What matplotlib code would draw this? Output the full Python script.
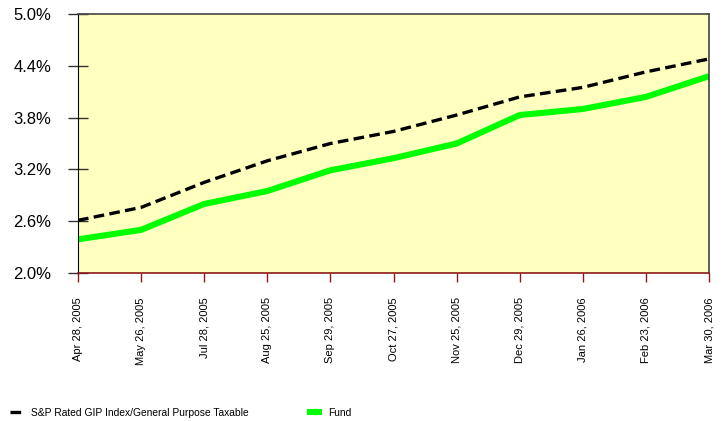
import matplotlib.pyplot as plt
from matplotlib.ticker import FuncFormatter

plt.rcParams["font.family"] = ["Liberation Sans", "DejaVu Sans"]

# ── Data ───────────────────────────────────────────────────────────────────
dates = ["Apr 28, 2005", "May 26, 2005", "Jul 28, 2005", "Aug 25, 2005",
         "Sep 29, 2005", "Oct 27, 2005", "Nov 25, 2005", "Dec 29, 2005",
         "Jan 26, 2006", "Feb 23, 2006", "Mar 30, 2006"]
index_yield = [2.61, 2.76, 3.05, 3.30, 3.50, 3.64, 3.83, 4.04, 4.15, 4.33, 4.48]
fund_yield = [2.39, 2.50, 2.80, 2.95, 3.19, 3.33, 3.50, 3.83, 3.90, 4.04, 4.28]
y_ticks = [2.0, 2.6, 3.2, 3.8, 4.4, 5.0]

INDEX_LABEL = "S&P Rated GIP Index/General Purpose Taxable"
FUND_LABEL = "Fund"

# ── Style ──────────────────────────────────────────────────────────────────
BG = "#FFFFC0"
AXIS_RED = "#8B1A1A"
LEG_SIZE = 7.4

fig = plt.figure(figsize=(7.25, 4.21), dpi=100)
ax = fig.add_axes([0.1076, 0.3515, 0.8704, 0.6152])
ax.set_facecolor(BG)

x = range(len(dates))
l_idx, = ax.plot(x, index_yield, color="black", lw=2.4, ls=(0, (3.2, 1.6)),
                 label=INDEX_LABEL, zorder=3)
l_fund, = ax.plot(x, fund_yield, color="#00FF00", lw=4.4,
                  solid_capstyle="butt", label=FUND_LABEL, zorder=2)

ax.set_xlim(0, len(dates) - 1)
ax.set_ylim(2.0, 5.0)
ax.set_yticks(y_ticks)
ax.yaxis.set_major_formatter(FuncFormatter(lambda v, _: f"{v:.1f}%"))
ax.set_xticks(list(x))
ax.set_xticklabels(dates, rotation=90, fontsize=8)

ax.tick_params(axis="y", direction="inout", length=14.4, width=1,
               labelsize=12, pad=12, color="#333333")
ax.tick_params(axis="x", direction="out", length=6.5, width=1,
               color=AXIS_RED, pad=11)

for side in ("top", "right"):
    ax.spines[side].set_color("#444444")
    ax.spines[side].set_linewidth(1.2)
ax.spines["left"].set_color("black")
ax.spines["bottom"].set_color(AXIS_RED)
ax.spines["bottom"].set_linewidth(1.2)

leg_kw = dict(loc="center left", frameon=False, fontsize=LEG_SIZE,
              handlelength=1.5, handletextpad=0.55,
              borderpad=0, borderaxespad=0)
fig.legend(handles=[l_idx], bbox_to_anchor=(10 / 725, 8 / 421), **leg_kw)
fig.legend(handles=[l_fund], bbox_to_anchor=(307 / 725, 8 / 421), **leg_kw)

fig.savefig("out.png", dpi=100)
